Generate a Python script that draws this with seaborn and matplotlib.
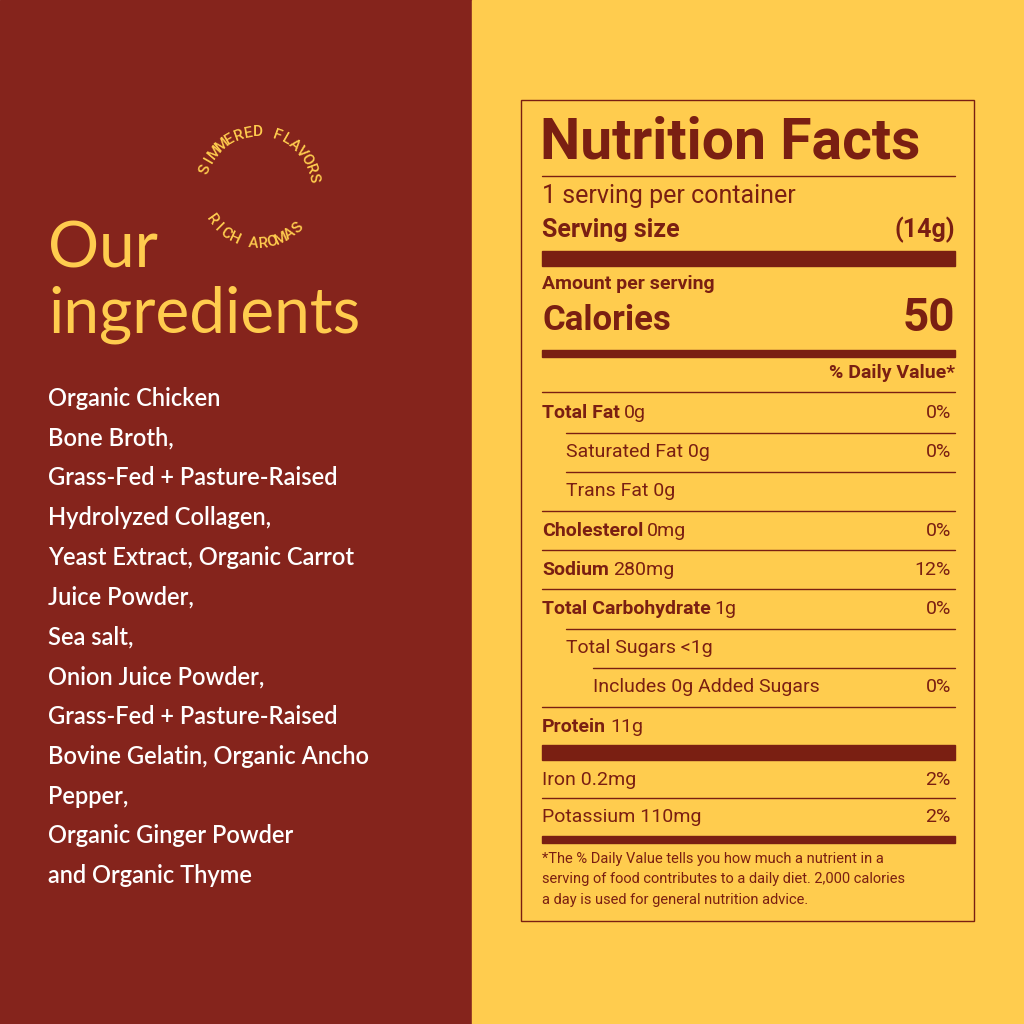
import numpy as np
import seaborn as sns
import matplotlib.pyplot as plt

sns.set_style("white")
plt.rcParams['font.family'] = ['Roboto', 'DejaVu Sans']

RED = '#85241c'
DARK = '#7a1f12'
YELLOW = '#ffcc4e'

ingredients = ["Organic Chicken", "Bone Broth,", "Grass-Fed + Pasture-Raised",
               "Hydrolyzed Collagen,", "Yeast Extract, Organic Carrot",
               "Juice Powder,", "Sea salt,", "Onion Juice Powder,",
               "Grass-Fed + Pasture-Raised", "Bovine Gelatin, Organic Ancho",
               "Pepper,", "Organic Ginger Powder", "and Organic Thyme"]

nutrients = ["Total Fat", "Saturated Fat", "Trans Fat", "Cholesterol", "Sodium",
             "Total Carbohydrate", "Total Sugars", "Includes 0g Added Sugars", "Protein"]
amounts = ["0g", "0g", "0g", "0mg", "280mg", "1g", "<1g", "", "11g"]
daily = ["0%", "0%", "", "0%", "12%", "0%", "", "0%", ""]
bold = [True, False, False, True, True, True, False, False, True]
indent = [0, 1, 1, 0, 0, 0, 1, 2, 0]

minerals = ["Iron 0.2mg", "Potassium 110mg"]
mineral_dv = ["2%", "2%"]

fig = plt.figure(figsize=(10.24, 10.24), dpi=100)
ax = fig.add_axes([0, 0, 1, 1])
ax.set_xlim(0, 1024)
ax.set_ylim(1024, 0)
ax.axis('off')

ax.add_patch(plt.Rectangle((0, 0), 472, 1024, color=RED))
ax.add_patch(plt.Rectangle((472, 0), 552, 1024, color=YELLOW))

# left panel
ax.text(48, 250, "Our", color=YELLOW, fontsize=46, family=['Lato', 'DejaVu Sans'], va='center')
ax.text(48, 315, "ingredients", color=YELLOW, fontsize=46, family=['Lato', 'DejaVu Sans'], va='center')
for i, line in enumerate(ingredients):
    ax.text(48, 398 + i * 39.8, line, color='white', fontsize=17, family=['Lato', 'DejaVu Sans'],
            fontweight='semibold', va='center')

# circular stamp text
cx, cy, r = 258, 188, 56
top = "SIMMERED FLAVORS"
angs = np.linspace(160, 10, len(top))
for ch, a in zip(top, angs):
    t = np.deg2rad(a)
    ax.text(cx + r * np.cos(t), cy - r * np.sin(t), ch, color=YELLOW, fontsize=11,
            rotation=a - 90, ha='center', va='center', fontweight='medium')
bot = "RICH AROMAS"
angs = np.linspace(-145, -45, len(bot))
for ch, a in zip(bot, angs):
    t = np.deg2rad(a)
    ax.text(cx + r * np.cos(t), cy - r * np.sin(t), ch, color=YELLOW, fontsize=11,
            rotation=a + 90, ha='center', va='center', fontweight='medium')

# nutrition label
L, R = 542, 955
ax.add_patch(plt.Rectangle((521, 100), 453, 821, fill=False, ec=DARK, lw=1))
ax.text(L - 2, 143, "Nutrition Facts", color=DARK, fontsize=41, fontweight='bold', va='center')
ax.plot([L, R], [176, 176], color=DARK, lw=1)
ax.text(L, 196, "1 serving per container", color=DARK, fontsize=18, va='center')
ax.text(L, 230, "Serving size", color=DARK, fontsize=18, fontweight='bold', va='center')
ax.text(R, 230, "(14g)", color=DARK, fontsize=18, fontweight='bold', va='center', ha='right')
ax.add_patch(plt.Rectangle((L, 251), R - L, 15, color=DARK))
ax.text(L, 284, "Amount per serving", color=DARK, fontsize=14, fontweight='bold', va='center')
ax.text(L, 320, "Calories", color=DARK, fontsize=25, fontweight='bold', va='center')
ax.text(R, 318, "50", color=DARK, fontsize=33, fontweight='bold', va='center', ha='right')
ax.add_patch(plt.Rectangle((L, 350), R - L, 7, color=DARK))
ax.text(R, 373, "% Daily Value*", color=DARK, fontsize=14, fontweight='bold', va='center', ha='right')
ax.plot([L, R], [392, 392], color=DARK, lw=1)

for i, name in enumerate(nutrients):
    y = 413 + i * 39.2
    x = L + [0, 24, 51][indent[i]]
    if bold[i]:
        tt = ax.text(x, y, name, color=DARK, fontsize=14, fontweight='bold', va='center')
        fig.canvas.draw()
        bb = tt.get_window_extent()
        ax.text(x + bb.width + 4, y, amounts[i], color=DARK, fontsize=14, va='center')
    else:
        ax.text(x, y, (name + " " + amounts[i]).strip(), color=DARK, fontsize=14, va='center')
    if daily[i]:
        ax.text(R - 4, y, daily[i], color=DARK, fontsize=14, va='center', ha='right')
    if i < len(nutrients) - 1:
        xs = L + [0, 24, 51][indent[i + 1]] if indent[i + 1] else L
        ax.plot([xs, R], [y + 19.5, y + 19.5], color=DARK, lw=1)

ax.add_patch(plt.Rectangle((L, 745), R - L, 15, color=DARK))
for i, m in enumerate(minerals):
    y = 780 + i * 37
    ax.text(L, y, m, color=DARK, fontsize=14, va='center')
    ax.text(R - 4, y, mineral_dv[i], color=DARK, fontsize=14, va='center', ha='right')
ax.plot([L, R], [798, 798], color=DARK, lw=1)
ax.add_patch(plt.Rectangle((L, 836), R - L, 7, color=DARK))
foot = ["*The % Daily Value tells you how much a nutrient in a",
        "serving of food contributes to a daily diet. 2,000 calories",
        "a day is used for general nutrition advice."]
for i, f in enumerate(foot):
    ax.text(L, 859 + i * 20.5, f, color=DARK, fontsize=10.5, va='center')

fig.savefig("out.png", dpi=100)
